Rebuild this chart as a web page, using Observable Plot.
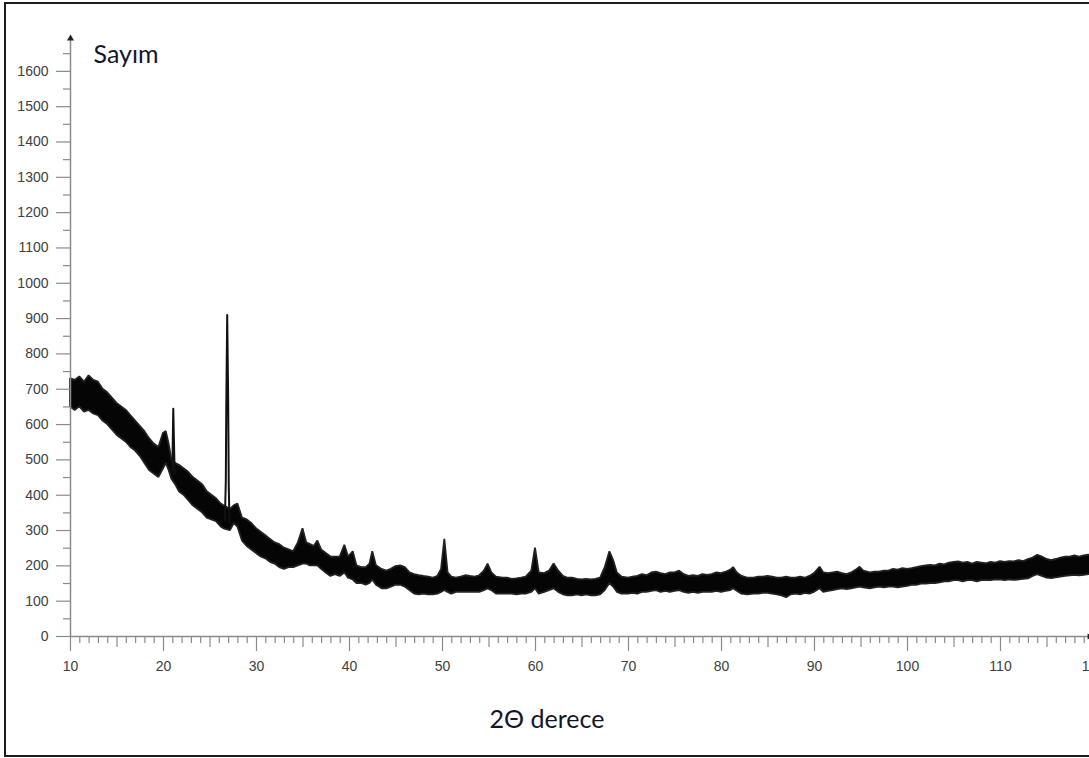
<!DOCTYPE html>
<html>
<head>
<meta charset="utf-8">
<script src="https://cdn.jsdelivr.net/npm/d3@7"></script>
<script src="https://cdn.jsdelivr.net/npm/@observablehq/plot@0.6"></script>
<style>
  html, body { margin: 0; padding: 0; background: #fff; overflow: hidden; }
  #wrap { position: relative; width: 1089px; height: 758px; overflow: hidden; background: #fff; }
  #edge { position: absolute; left: 4px; top: 2px; width: 1200px; height: 755px;
          box-sizing: border-box; border: 2px solid #1c1c1c; border-right: none; }
  #chart { position: absolute; left: 0; top: 0; }
  #chart svg { overflow: hidden; }
</style>
</head>
<body>
<div id="wrap"><div id="edge"></div><div id="chart"></div></div>
<script>
// XRD pattern: counts (Sayım) versus 2θ in degrees.
// The noisy background is drawn as a band between its lower and upper envelope.
const bandDeg = [
  10.0, 10.5, 11.0, 11.5, 12.0, 12.5, 13.0, 13.5, 14.0, 14.5, 15.0, 15.5, 16.0, 16.5, 17.0, 17.5,
  18.0, 18.5, 19.0, 19.5, 20.0, 20.3, 20.6, 20.9, 21.3, 21.7, 22.2, 22.7, 23.2, 23.7, 24.2, 24.7,
  25.2, 25.7, 26.2, 26.5, 27.2, 27.6, 28.0, 28.5, 29.0, 29.5, 30.0, 30.5, 31.0, 31.5, 32.0, 32.5,
  33.0, 33.5, 34.0, 34.5, 35.0, 35.4, 35.8, 36.2, 36.6, 37.0, 37.5, 38.0, 38.5, 39.0, 39.5, 39.9,
  40.4, 40.8, 41.3, 41.8, 42.2, 42.5, 42.9, 43.5, 44.0, 44.5, 45.0, 45.5, 46.0, 46.5, 47.0, 47.5,
  48.0, 48.5, 49.0, 49.5, 49.9, 50.25, 50.6, 51.0, 51.5, 52.0, 52.5, 53.0, 53.5, 54.0, 54.5, 54.9,
  55.3, 55.8, 56.5, 57.0, 57.5, 58.0, 58.5, 59.0, 59.6, 60.0, 60.4, 61.0, 61.5, 62.0, 62.5, 63.0,
  63.5, 64.0, 64.5, 65.0, 65.5, 66.0, 66.5, 67.0, 67.5, 68.0, 68.4, 68.8, 69.3, 70.0, 70.5, 71.0,
  71.5, 72.0, 72.5, 73.0, 73.5, 74.0, 74.5, 75.0, 75.5, 76.0, 76.5, 77.0, 77.5, 78.0, 78.5, 79.0,
  79.5, 80.0, 80.5, 81.0, 81.3, 81.7, 82.2, 82.8, 83.5, 84.0, 84.5, 85.0, 85.5, 86.0, 86.5, 87.0,
  87.5, 88.0, 88.5, 89.0, 89.5, 90.0, 90.6, 91.0, 91.5, 92.0, 92.5, 93.0, 93.5, 94.0, 94.5, 94.9,
  95.3, 96.0, 96.5, 97.0, 97.5, 98.0, 98.5, 99.0, 99.5, 100.0, 100.5, 101.0, 101.5, 102.0, 102.5, 103.0,
  103.5, 104.0, 104.5, 105.0, 105.5, 106.0, 106.5, 107.0, 107.5, 108.0, 108.5, 109.0, 109.5, 110.0, 110.5, 111.0,
  111.5, 112.0, 112.5, 113.0, 113.5, 114.0, 114.5, 115.0, 115.5, 116.0, 116.5, 117.0, 117.5, 118.0, 118.5, 119.0,
  119.5, 120.0
];
const bandLow = [
  650, 640, 650, 635, 640, 630, 625, 610, 600, 585, 570, 560, 550, 535, 525, 510,
  490, 470, 460, 450, 475, 490, 470, 445, 430, 410, 400, 385, 370, 360, 350, 335,
  330, 325, 310, 305, 300, 320, 310, 270, 255, 245, 235, 225, 220, 210, 205, 195,
  190, 195, 195, 200, 205, 205, 200, 200, 200, 190, 180, 170, 175, 170, 180, 165,
  160, 150, 150, 145, 150, 160, 145, 135, 135, 140, 145, 145, 140, 130, 120, 118,
  120, 118, 118, 120, 125, 130, 125, 120, 125, 125, 125, 125, 125, 125, 130, 135,
  130, 120, 120, 120, 120, 118, 120, 120, 125, 135, 120, 125, 130, 135, 125, 118,
  115, 115, 118, 115, 118, 115, 115, 118, 130, 150, 140, 125, 120, 120, 122, 120,
  125, 125, 128, 130, 125, 128, 125, 128, 130, 125, 122, 125, 122, 125, 125, 125,
  128, 125, 128, 130, 135, 128, 120, 118, 120, 120, 122, 122, 120, 118, 115, 110,
  118, 120, 118, 122, 120, 125, 135, 125, 128, 130, 133, 135, 133, 135, 138, 140,
  138, 135, 138, 140, 138, 140, 140, 138, 140, 142, 145, 145, 148, 148, 150, 150,
  152, 155, 155, 158, 158, 155, 158, 158, 155, 158, 159, 158, 160, 160, 158, 160,
  159, 160, 162, 163, 170, 175, 170, 165, 164, 166, 168, 170, 172, 173, 172, 173,
  175, 175
];
const bandHigh = [
  730, 725, 735, 720, 738, 725, 720, 700, 690, 675, 660, 650, 640, 625, 610, 595,
  580, 560, 545, 535, 575, 580, 545, 500, 490, 485, 475, 465, 450, 440, 430, 410,
  400, 390, 375, 370, 360, 370, 375, 335, 330, 320, 305, 295, 285, 275, 265, 260,
  250, 245, 240, 265, 305, 265, 260, 255, 270, 245, 235, 225, 225, 225, 258, 225,
  240, 200, 195, 195, 205, 240, 200, 190, 185, 190, 198, 200, 195, 180, 175, 172,
  170, 168, 165, 170, 190, 275, 180, 168, 165, 168, 172, 170, 168, 172, 185, 205,
  180, 168, 165, 165, 162, 163, 165, 168, 185, 250, 180, 178, 185, 205, 185, 170,
  165, 165, 162, 160, 162, 160, 162, 165, 195, 240, 215, 180, 168, 165, 168, 170,
  175, 172, 180, 182, 178, 175, 180, 180, 185, 175, 170, 172, 170, 175, 173, 175,
  180, 178, 182, 188, 195, 180, 170, 165, 165, 168, 168, 170, 168, 165, 165, 168,
  165, 165, 168, 165, 170, 178, 196, 180, 178, 180, 182, 178, 175, 180, 188, 196,
  185, 180, 182, 182, 185, 185, 190, 188, 192, 190, 192, 195, 198, 200, 201, 200,
  205, 203, 208, 210, 211, 208, 210, 205, 210, 208, 206, 210, 208, 212, 210, 212,
  211, 215, 212, 218, 222, 230, 225, 218, 215, 218, 222, 225, 225, 228, 225, 228,
  230, 228
];

// Narrow reflections that rise well above the background band.
const peak21Deg = [20.95, 21.05, 21.12, 21.2];
const peak21Cnt = [470, 645, 560, 460];
const peak27Deg = [26.6, 26.7, 26.75, 26.85, 26.95, 27.02, 27.1];
const peak27Cnt = [330, 440, 650, 910, 680, 420, 320];

// Axis ticks
const xLabelTicks = [10, 20, 30, 40, 50, 60, 70, 80, 90, 100, 110, 120];
const xMidTicks = [15, 25, 35, 45, 55, 65, 75, 85, 95, 105, 115];
const xMinorTicks = d3.range(11, 120).filter(d => d % 5 !== 0);
const yLabelTicks = [0, 100, 200, 300, 400, 500, 600, 700, 800, 900, 1000, 1100, 1200, 1300, 1400, 1500, 1600];
const yMinorTicks = [50, 150, 250, 350, 450, 550, 650, 750, 850, 950, 1050, 1150, 1250, 1350, 1450, 1550, 1650];
const xDomain = [10, 120];
const yDomain = [0, 1693];
const xArrowAt = 119.55;

const band = bandDeg.map((t, i) => ({t, lo: bandLow[i], hi: bandHigh[i]}));
const peaks = [
  ...peak21Deg.map((t, i) => ({peak: "21", t, c: peak21Cnt[i]})),
  ...peak27Deg.map((t, i) => ({peak: "27", t, c: peak27Cnt[i]}))
];

const axisGray = "#8a8a8a";
const labelGray = "#404040";
const tickFont = "'Liberation Sans', Arial, sans-serif";
const titleFont = "Lato, 'Open Sans', 'Noto Sans', sans-serif";
const plain = d => String(d);

const chart = Plot.plot({
  width: 1089,
  height: 758,
  marginLeft: 70,
  marginRight: 0,
  marginTop: 38,
  marginBottom: 122,
  x: {domain: xDomain, range: [70, 1093]},
  y: {domain: yDomain, range: [636, 38]},
  style: {
    fontFamily: tickFont,
    fontSize: "14px",
    background: "transparent",
    color: labelGray
  },
  marks: [
    // background band
    Plot.areaY(band, {x: "t", y1: "lo", y2: "hi", fill: "#050505", stroke: "#222", strokeWidth: 1.8, strokeLinejoin: "miter"}),
    // sharp reflections
    Plot.line(peaks, {x: "t", y: "c", z: "peak", stroke: "#111", strokeWidth: 2}),

    // axis lines
    Plot.ruleY([0], {stroke: axisGray, strokeWidth: 1.5}),
    Plot.ruleX([xDomain[0]], {stroke: axisGray, strokeWidth: 1.5}),
    Plot.dot([{t: xDomain[0], c: yDomain[1]}], {x: "t", y: "c", symbol: "triangle", r: 2.6, fill: "#222", stroke: null}),
    Plot.dot([{t: xArrowAt, c: 0}], {x: "t", y: "c", symbol: "triangle", r: 2.2, rotate: 90, fill: "#222", stroke: null}),

    // x axis ticks
    Plot.axisX(xMinorTicks, {tickSize: 7, tickFormat: () => "", label: null, stroke: axisGray, strokeWidth: 1.2}),
    Plot.axisX(xMidTicks, {tickSize: 11, tickFormat: () => "", label: null, stroke: axisGray, strokeWidth: 1.2}),
    Plot.axisX(xLabelTicks, {tickSize: 15, tickPadding: 10, tickFormat: plain, label: null, stroke: axisGray, strokeWidth: 1.2,
      fill: labelGray, fontSize: 14, fontFamily: tickFont}),

    // y axis ticks
    Plot.axisY(yMinorTicks, {tickSize: 7, tickFormat: () => "", label: null, stroke: axisGray, strokeWidth: 1.2}),
    Plot.axisY(yLabelTicks, {tickSize: 14, tickPadding: 8, tickFormat: plain, label: null, stroke: axisGray, strokeWidth: 1.2,
      fill: labelGray, fontSize: 14, fontFamily: tickFont}),

    // axis titles
    Plot.text(["Sayım"], {frameAnchor: "top-left", dx: 23, dy: 7, textAnchor: "start", lineAnchor: "top",
      fontFamily: titleFont, fontSize: 25, fill: "#15152a"}),
    Plot.text(["2Θ derece"], {frameAnchor: "bottom", dx: -33, dy: 74, lineAnchor: "top",
      fontFamily: titleFont, fontSize: 25, fill: "#15152a"})
  ]
});

document.getElementById("chart").appendChild(chart);
</script>
</body>
</html>
